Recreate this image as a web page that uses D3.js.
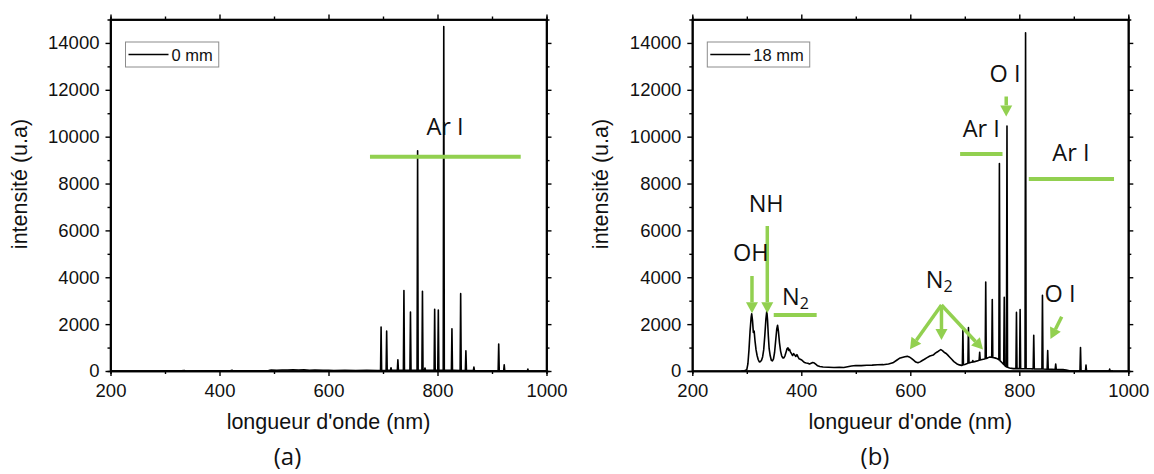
<!DOCTYPE html>
<html><head><meta charset="utf-8">
<script src="https://cdn.jsdelivr.net/npm/d3@7"></script>
<style>body{margin:0;background:#fff}svg{display:block}</style>
</head><body>
<svg id="c" width="1154" height="474"></svg>
<script>
// ---------- data ----------
const xTicks = [200, 400, 600, 800, 1000];
const xMinorTicks = [300, 500, 700, 900];
const yTicks = [0, 2000, 4000, 6000, 8000, 10000, 12000, 14000];
const yMinorTicks = [1000, 3000, 5000, 7000, 9000, 11000, 13000];

// panel (a) : 0 mm  — weak background + Ar I lines
const contA = [[200,0],[290,0],[300,8],[330,5],[335,25],[338,0],[380,5],[420,10],[423,30],[426,5],[460,10],[490,20],[495,40],[505,35],[515,45],[525,40],[535,55],[545,45],[555,50],[565,35],[575,40],[590,25],[600,35],[610,20],[630,25],[650,15],[670,25],[690,20],[720,30],[780,30],[830,25],[880,10],[900,5],[940,5],[970,0],[1000,0]];
const linesA_wl = [696.5, 706.7, 714.7, 727.3, 738.4, 750.4, 763.5, 772.4, 777.0, 794.8, 801.5, 811.5, 826.5, 842.5, 852.1, 866.8, 912.3, 922.4, 965.8];
const linesA_h  = [1880, 1700, 140, 480, 3430, 2520, 9400, 3400, 130, 2630, 2600, 14700, 1800, 3300, 860, 170, 1150, 260, 80];

// panel (b) : 18 mm — OH, NH, N2 bands + Ar I / O I lines
const contB = [[290,0],[296,10],[300,60],[302,300],[304,900],[306,1700],[308,2300],[309,2440],[310.5,2150],[312,1650],[313.5,1700],[315,1300],[317,900],[319,650],[321,480],[323,390],[325,400],[327,460],[329,600],[331,900],[333,1500],[335,2200],[336.7,2560],[338,2200],[339.5,1500],[341,950],[343,650],[345,460],[347,430],[349,520],[351,800],[353,1300],[355,1800],[356.5,1950],[358,1700],[360,1200],[362,850],[364,650],[366,560],[368,560],[370,650],[372,800],[374,960],[375.5,990],[377,880],[378.5,920],[380,820],[382,740],[384,660],[386,740],[388,680],[390,620],[392,700],[394,600],[396,520],[398,500],[400.8,470],[403,420],[406,360],[409,340],[412,330],[415,300],[418,330],[421,360],[424,340],[427,280],[430,220],[434,190],[440,170],[450,160],[460,150],[470,155],[478,150],[485,180],[492,210],[500,235],[510,230],[520,245],[530,250],[540,265],[550,270],[560,300],[568,350],[575,460],[580,540],[585,580],[590,610],[594.5,625],[598,600],[602,540],[606,460],[610,380],[614,350],[618,390],[622,450],[626,500],[630,560],[636,640],[642,680],[646,760],[650,820],[653,870],[656,910],[659,870],[662,800],[665,760],[668,700],[672,600],[676,500],[680,400],[685,310],[690,260],[694,240],[700,280],[706,330],[712,370],[718,400],[724,440],[730,480],[736,510],[742,560],[746,600],[750,580],[755,560],[760,520],[764,455],[768,360],[772,260],[776.6,170],[782,130],[789,100],[800,100],[820,95],[840,85],[860,70],[880,60],[886,40],[892,10],[900,0],[972,0]];
const linesB_wl = [696.5, 706.7, 714.7, 727.3, 738.4, 750.4, 763.5, 772.4, 777.4, 794.8, 801.5, 811.5, 826.5, 842.5, 852.1, 866.8, 912.3, 922.4, 965.8];
const linesB_h  = [1750, 1850, 450, 800, 3800, 3050, 8850, 3150, 10450, 2500, 2620, 14430, 1520, 3230, 870, 300, 1000, 250, 80];

const legendNames = ["0 mm", "18 mm"];
const panelLetters = ["(a)", "(b)"];
const xTitle = "longueur d'onde (nm)";
const yTitle = "intensité (u.a)";

// annotations (data coordinates)
const labelsA = [{t:"Ar I", x:813.8, y:10071}];
const barsA = [[676.1, 952.7, 9145]];
const arrowsA = [];

const labelsB = [
  {t:"O I", x:773.8, y:12312},
  {t:"Ar I", x:730.3, y:9986},
  {t:"Ar I", x:894.7, y:8945},
  {t:"NH", x:335.6, y:6785},
  {t:"OH", x:307.3, y:4694},
  {t:"N", sub:"2", x:364.5, y:2816, start:true},
  {t:"N", sub:"2", x:628.5, y:3542, start:true},
  {t:"O I", x:874.7, y:2957}
];
const barsB = [[691.4, 769.2, 9260], [817.4, 973.8, 8194], [349.4, 428.2, 2390]];
const arrowsB = [[776,11714,776,10865],[337.6,6188,337.6,2462],[309.5,4054,309.5,2462],[657.2,2816,599.4,926],[657.2,2816,657.2,1323],[657.2,2816,733.4,918],[877.8,2317,857.2,1366]];

// ---------- drawing ----------
const svg = d3.select("#c");
const GREEN = "#92d050";
const AXF = "'Liberation Sans', Arial, sans-serif";
const ANF = "'Open Sans', Lato, sans-serif";

function buildPoints(cont, wl, ht, hw) {
  const interp = l => {
    for (let i = 0; i < cont.length - 1; i++) {
      const a = cont[i], b = cont[i+1];
      if (l >= a[0] && l <= b[0]) return a[1] + (b[1]-a[1]) * (l-a[0])/(b[0]-a[0]);
    }
    return 0;
  };
  const pts = cont.filter(p => !wl.some(w => Math.abs(p[0]-w) <= hw));
  wl.forEach((w, i) => {
    pts.push([w-hw, interp(w-hw)], [w, Math.max(ht[i], interp(w))], [w+hw, interp(w+hw)]);
  });
  pts.sort((a, b) => a[0] - b[0]);
  return pts;
}

function panel(opts) {
  const L = opts.left, W = 436, T = 19.5, B = 371;
  const x = d3.scaleLinear().domain([200, 1000]).range([L, L + W]);
  const y = d3.scaleLinear().domain([0, 15000]).range([B, T]);
  const g = svg.append("g");

  // data line
  const pts = buildPoints(opts.cont, opts.wl, opts.ht, 1.0);
  g.append("path").datum(pts)
    .attr("d", d3.line().x(d => x(d[0])).y(d => y(d[1])))
    .attr("fill", "none").attr("stroke", "#000").attr("stroke-width", 1.6)
    .attr("stroke-linejoin", "round");

  // axes
  const styleAxis = (sel) => {
    sel.selectAll("path.domain").attr("stroke", "#000").attr("stroke-width", 1.6);
    sel.selectAll(".tick line").attr("stroke", "#000").attr("stroke-width", 1.4);
    sel.selectAll("text").attr("font-family", AXF).attr("font-size", "18.5px").attr("fill", "#111");
  };
  const ax = (gen, tr) => g.append("g").attr("transform", tr).call(gen).call(styleAxis);
  ax(d3.axisBottom(x).tickValues(xTicks).tickSizeInner(5).tickSizeOuter(0).tickPadding(8).tickFormat(d3.format("d")), `translate(0,${B})`);
  ax(d3.axisBottom(x).tickValues(xMinorTicks).tickSize(3).tickFormat(""), `translate(0,${B})`);
  ax(d3.axisTop(x).tickValues(xTicks).tickSizeInner(5).tickSizeOuter(0).tickFormat(""), `translate(0,${T})`);
  ax(d3.axisTop(x).tickValues(xMinorTicks).tickSize(3).tickFormat(""), `translate(0,${T})`);
  ax(d3.axisLeft(y).tickValues(yTicks).tickSizeInner(5).tickSizeOuter(0).tickPadding(6).tickFormat(d3.format("d")), `translate(${L},0)`);
  ax(d3.axisLeft(y).tickValues(yMinorTicks).tickSize(3).tickFormat(""), `translate(${L},0)`);
  ax(d3.axisRight(y).tickValues(yTicks).tickSizeInner(5).tickSizeOuter(0).tickFormat(""), `translate(${L+W},0)`);
  ax(d3.axisRight(y).tickValues(yMinorTicks).tickSize(3).tickFormat(""), `translate(${L+W},0)`);
  g.append("rect").attr("x", L).attr("y", T).attr("width", W).attr("height", B - T)
    .attr("fill", "none").attr("stroke", "#000").attr("stroke-width", 1.6);

  // titles
  g.append("text").attr("x", L + W/2).attr("y", 429).attr("text-anchor", "middle")
    .attr("font-family", AXF).attr("font-size", "21.5px").attr("fill", "#111").text(xTitle);
  g.append("text").attr("transform", `translate(${L - 84},184) rotate(-90)`).attr("text-anchor", "middle")
    .attr("font-family", AXF).attr("font-size", "21.5px").attr("fill", "#111").text(yTitle);
  g.append("text").attr("x", opts.letterX).attr("y", 465).attr("text-anchor", "middle")
    .attr("font-family", ANF).attr("font-size", "24px").attr("fill", "#111").text(opts.letter);

  // legend
  const lg = g.append("g").attr("transform", `translate(${L + 15},42)`);
  const box = lg.append("rect").attr("x", 0).attr("y", 0).attr("height", 25)
    .attr("fill", "#fff").attr("stroke", "#8c8c8c").attr("stroke-width", 1);
  lg.append("line").attr("x1", 3).attr("x2", 43).attr("y1", 12.5).attr("y2", 12.5)
    .attr("stroke", "#000").attr("stroke-width", 1.5);
  const lt = lg.append("text").attr("x", 46).attr("y", 18.5).attr("font-family", AXF)
    .attr("font-size", "16.5px").attr("fill", "#111").text(opts.name);
  box.attr("width", 46 + lt.node().getComputedTextLength() + 6);

  // annotations
  opts.bars.forEach(b => g.append("line").attr("x1", x(b[0])).attr("x2", x(b[1]))
    .attr("y1", y(b[2])).attr("y2", y(b[2])).attr("stroke", GREEN).attr("stroke-width", 4));
  opts.arrows.forEach(a => {
    const x1 = x(a[0]), y1 = y(a[1]), x2 = x(a[2]), y2 = y(a[3]);
    const ang = Math.atan2(y2 - y1, x2 - x1), hl = 11, hwd = 6;
    const bx = x2 - hl * Math.cos(ang), by = y2 - hl * Math.sin(ang);
    g.append("line").attr("x1", x1).attr("y1", y1).attr("x2", bx).attr("y2", by)
      .attr("stroke", GREEN).attr("stroke-width", 3.5);
    const px = -Math.sin(ang) * hwd, py = Math.cos(ang) * hwd;
    g.append("polygon").attr("points", `${x2},${y2} ${bx+px},${by+py} ${bx-px},${by-py}`).attr("fill", GREEN);
  });
  opts.labels.forEach(l => {
    const t = g.append("text").attr("x", x(l.x)).attr("y", y(l.y))
      .attr("text-anchor", l.start ? "start" : "middle")
      .attr("font-family", ANF).attr("font-size", "23.5px").attr("fill", "#111").text(l.t);
    if (l.sub) t.append("tspan").attr("dy", 4).attr("font-size", "16px").text(l.sub);
  });
}

panel({left:110.5, cont:contA, wl:linesA_wl, ht:linesA_h, name:legendNames[0], letter:panelLetters[0], letterX:287.5, labels:labelsA, bars:barsA, arrows:arrowsA});
panel({left:692.3, cont:contB, wl:linesB_wl, ht:linesB_h, name:legendNames[1], letter:panelLetters[1], letterX:875, labels:labelsB, bars:barsB, arrows:arrowsB});
</script>
</body></html>
